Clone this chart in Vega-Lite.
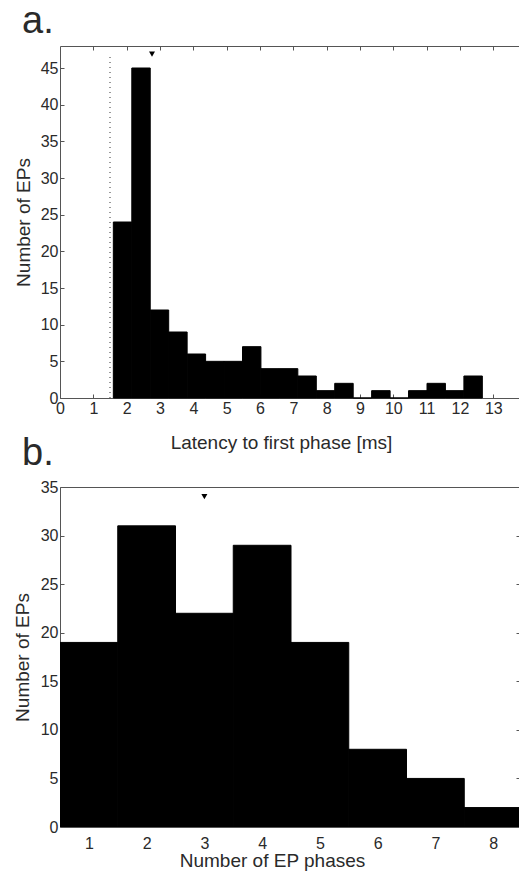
{
  "$schema": "https://vega.github.io/schema/vega-lite/v6.json",
  "autosize": {"type": "pad"},
  "padding": {"left": 13, "top": 2, "right": 0, "bottom": 1},
  "background": "white",
  "bounds": "flush",
  "spacing": 89,
  "config": {
    "font": "Liberation Sans",
    "view": {"stroke": null},
    "axis": {
      "grid": false,
      "labelFont": "Liberation Sans",
      "titleFont": "Liberation Sans",
      "labelFontSize": 16,
      "titleFontSize": 19,
      "labelColor": "#2a2a2a",
      "titleColor": "#2a2a2a",
      "titleFontWeight": "normal",
      "domainColor": "#555",
      "tickColor": "#555",
      "labelFlush": false,
      "labelOverlap": false
    },
    "title": {"font": "Liberation Sans", "fontSize": 38, "fontWeight": "normal", "color": "#2a2a2a", "anchor": "start", "frame": "group", "baseline": "alphabetic"}
  },
  "datasets": {
    "histA": [
      {"x0": 1.600, "x1": 2.154, "count": 24},
      {"x0": 2.154, "x1": 2.707, "count": 45},
      {"x0": 2.707, "x1": 3.261, "count": 12},
      {"x0": 3.261, "x1": 3.814, "count": 9},
      {"x0": 3.814, "x1": 4.368, "count": 6},
      {"x0": 4.368, "x1": 4.921, "count": 5},
      {"x0": 4.921, "x1": 5.475, "count": 5},
      {"x0": 5.475, "x1": 6.028, "count": 7},
      {"x0": 6.028, "x1": 6.582, "count": 4},
      {"x0": 6.582, "x1": 7.135, "count": 4},
      {"x0": 7.135, "x1": 7.689, "count": 3},
      {"x0": 7.689, "x1": 8.242, "count": 1},
      {"x0": 8.242, "x1": 8.796, "count": 2},
      {"x0": 8.796, "x1": 9.349, "count": 0},
      {"x0": 9.349, "x1": 9.903, "count": 1},
      {"x0": 9.903, "x1": 10.456, "count": 0},
      {"x0": 10.456, "x1": 11.010, "count": 1},
      {"x0": 11.010, "x1": 11.563, "count": 2},
      {"x0": 11.563, "x1": 12.117, "count": 1},
      {"x0": 12.117, "x1": 12.670, "count": 3}
    ],
    "lineA": [{"x": 1.5, "y0": 0, "y1": 46.5}],
    "arrowA": [{"x": 2.76, "y": 46.9}],
    "histB": [
      {"phases": 1, "x0": 0.5, "x1": 1.5, "count": 19},
      {"phases": 2, "x0": 1.5, "x1": 2.5, "count": 31},
      {"phases": 3, "x0": 2.5, "x1": 3.5, "count": 22},
      {"phases": 4, "x0": 3.5, "x1": 4.5, "count": 29},
      {"phases": 5, "x0": 4.5, "x1": 5.5, "count": 19},
      {"phases": 6, "x0": 5.5, "x1": 6.5, "count": 8},
      {"phases": 7, "x0": 6.5, "x1": 7.5, "count": 5},
      {"phases": 8, "x0": 7.5, "x1": 8.5, "count": 2}
    ],
    "arrowB": [{"x": 3.0, "y": 34.0}]
  },
  "vconcat": [
    {
      "title": {"text": "a.", "dx": -38, "offset": 5},
      "width": 459,
      "height": 352,
      "layer": [
        {
          "data": {"name": "histA"},
          "mark": {"type": "bar", "color": "black", "stroke": "black", "strokeWidth": 1},
          "encoding": {
            "x": {"field": "x0", "type": "quantitative", "scale": {"domain": [0, 13.77], "nice": false, "zero": false},
              "axis": {"orient": "bottom", "values": [0,1,2,3,4,5,6,7,8,9,10,11,12,13], "format": "d", "domain": true, "ticks": true, "tickSize": -4, "labelPadding": 6, "title": "Latency to first phase [ms]", "titlePadding": 17, "titleX": 221}},
            "x2": {"field": "x1"},
            "y": {"field": "count", "type": "quantitative", "title": "Number of EPs", "scale": {"domain": [0, 48], "nice": false},
              "axis": {"orient": "left", "values": [0,5,10,15,20,25,30,35,40,45], "domain": true, "ticks": true, "tickSize": -4, "labelPadding": 6, "titlePadding": 7}},
            "y2": {"datum": 0}
          }
        },
        {
          "data": {"name": "lineA"},
          "mark": {"type": "rule", "strokeDash": [1, 4], "color": "#333", "strokeWidth": 1},
          "encoding": {
            "x": {"field": "x", "type": "quantitative",
              "axis": {"orient": "top", "values": [1,2,3,4,5,6,7,8,9,10,11,12,13], "domain": true, "ticks": true, "tickSize": -4, "labels": false, "title": null}},
            "y": {"field": "y0", "type": "quantitative", "title": "Number of EPs",
              "axis": {"orient": "left", "values": [0,5,10,15,20,25,30,35,40,45], "domain": true, "ticks": true, "tickSize": -4, "labelPadding": 6, "titlePadding": 7}},
            "y2": {"field": "y1"}
          }
        },
        {
          "data": {"name": "arrowA"},
          "mark": {"type": "point", "shape": "triangle-down", "filled": true, "color": "black", "opacity": 1, "size": 36},
          "encoding": {
            "x": {"field": "x", "type": "quantitative", "axis": null},
            "y": {"field": "y", "type": "quantitative", "title": "Number of EPs",
              "axis": {"orient": "left", "values": [0,5,10,15,20,25,30,35,40,45], "domain": true, "ticks": true, "tickSize": -4, "labelPadding": 6, "titlePadding": 7}}
          }
        }
      ],
      "resolve": {"axis": {"x": "independent"}}
    },
    {
      "title": {"text": "b.", "dx": -38, "offset": 6},
      "width": 459,
      "height": 340,
      "layer": [
        {
          "data": {"name": "histB"},
          "mark": {"type": "bar", "color": "black", "stroke": "black", "strokeWidth": 1, "clip": true},
          "encoding": {
            "x": {"field": "x0", "type": "quantitative", "scale": {"domain": [0.5, 8.448], "nice": false, "zero": false},
              "axis": {"orient": "bottom", "values": [1,2,3,4,5,6,7,8], "format": "d", "domain": true, "ticks": false, "labelPadding": 8, "labelDx": -3, "title": "Number of EP phases", "titlePadding": 0, "titleX": 212}},
            "x2": {"field": "x1"},
            "y": {"field": "count", "type": "quantitative", "title": "Number of EPs", "scale": {"domain": [0, 35], "nice": false},
              "axis": {"orient": "left", "values": [0,5,10,15,20,25,30,35], "domain": true, "ticks": true, "tickSize": -4, "labelPadding": 6, "titlePadding": 8}},
            "y2": {"datum": 0}
          }
        },
        {
          "data": {"name": "arrowB"},
          "mark": {"type": "point", "shape": "triangle-down", "filled": true, "color": "black", "opacity": 1, "size": 36},
          "encoding": {
            "x": {"field": "x", "type": "quantitative",
              "axis": {"orient": "top", "domain": true, "ticks": false, "labels": false, "title": null}},
            "y": {"field": "y", "type": "quantitative", "title": null,
              "axis": {"orient": "right", "values": [5,10,15,20,25,30], "domain": false, "ticks": true, "tickSize": -3, "labels": false, "title": null}}
          }
        }
      ],
      "resolve": {"axis": {"x": "independent", "y": "independent"}}
    }
  ]
}
